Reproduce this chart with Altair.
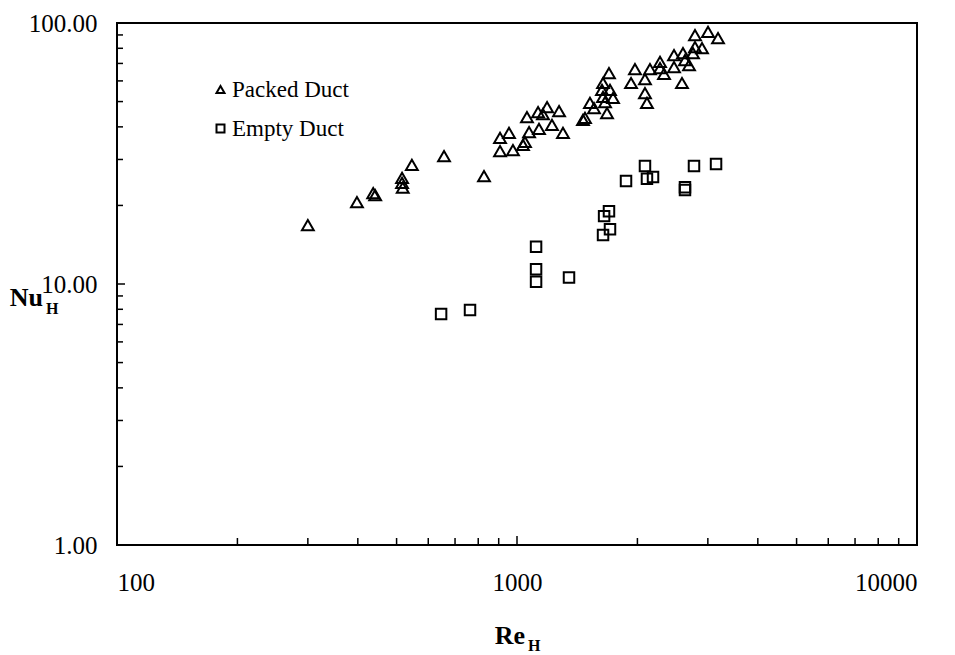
import altair as alt
import pandas as pd

# Packed duct (triangles)
packed_re = [300, 398, 442, 437, 516, 516, 518, 546, 657, 827, 907, 907, 955, 977, 1035, 1047,
             1059, 1072, 1129, 1135, 1189, 1161, 1223, 1274, 1303, 1479, 1462, 1522, 1558, 1641,
             1631, 1641, 1679, 1698, 1708, 1738, 1660, 1928, 1972, 2089, 2089, 2113, 2150, 2278,
             2278, 2331, 2469, 2469, 2600, 2630, 2692, 2585, 2754, 2786, 2786, 2901, 3003, 3181]
packed_nu = [16.8, 20.6, 21.9, 22.3, 25.5, 24.4, 23.4, 28.6, 30.9, 25.9, 32.3, 36.3, 37.9, 32.6, 34.1, 35.0,
             43.6, 38.2, 45.6, 39.3, 47.6, 44.8, 40.7, 46.0, 37.9, 43.3, 42.5, 49.4, 47.2, 58.9,
             55.4, 52.1, 45.2, 64.3, 55.4, 51.6, 49.8, 58.9, 66.6, 61.0, 53.9, 49.4, 66.6, 70.9,
             67.2, 63.8, 75.4, 67.8, 76.7, 72.1, 69.0, 58.9, 76.7, 89.9, 80.9, 80.2, 92.4, 87.6]

# Empty duct (squares)
empty_re = [646, 763, 1116, 1116, 1116, 1349, 1873, 2089, 2113, 2188, 1651, 1698, 1641, 1708,
            2630, 2630, 2770, 3145]
empty_nu = [7.67, 7.95, 13.9, 11.4, 10.2, 10.6, 24.8, 28.3, 25.3, 25.7, 18.2, 19.0, 15.4, 16.2,
            22.9, 23.5, 28.3, 28.8]

series_names = ["Packed Duct", "Empty Duct"]
x_labels = [100, 1000, 10000]
y_labels = [1, 10, 100]
x_minor = [200, 300, 400, 500, 600, 700, 800, 900, 2000, 3000, 4000, 5000, 6000, 7000, 8000, 9000]
x_major = [1000]
y_minor = [2, 3, 4, 5, 6, 7, 8, 9, 20, 30, 40, 50, 60, 70, 80, 90]
y_major = [10]

W, H = 800, 522
FONT = "Liberation Serif"

df = pd.DataFrame({
    "Re": packed_re + empty_re,
    "Nu": packed_nu + empty_nu,
    "series": [series_names[0]] * len(packed_re) + [series_names[1]] * len(empty_re),
})

xscale = alt.Scale(type="log", domain=[100, 10000], nice=False)
yscale = alt.Scale(type="log", domain=[1, 100], nice=False)

points = alt.Chart(df).mark_point(filled=False, color="black", strokeWidth=2, opacity=1).encode(
    x=alt.X("Re:Q", scale=xscale,
            axis=alt.Axis(values=x_labels, format="d", title=None, labelPadding=25,
                          labelFont=FONT, labelFontSize=25, labelColor="black")),
    y=alt.Y("Nu:Q", scale=yscale,
            axis=alt.Axis(values=y_labels, format=".2f", title=None, labelPadding=20,
                          labelFont=FONT, labelFontSize=25, labelColor="black")),
    shape=alt.Shape("series:N",
                    scale=alt.Scale(domain=series_names, range=["triangle-up", "square"]),
                    legend=alt.Legend(title=None, orient="none", legendX=92, legendY=55,
                                      padding=0, labelFont=FONT, labelFontSize=23, labelColor="black",
                                      symbolStrokeColor="black", symbolStrokeWidth=2,
                                      symbolFillColor="white", symbolSize=64,
                                      rowPadding=15, labelOffset=0)),
    size=alt.condition("datum.series == 'Packed Duct'", alt.value(140), alt.value(110)),
)

xmin_df = pd.DataFrame({"v": x_minor})
xmaj_df = pd.DataFrame({"v": x_major})
ymin_df = pd.DataFrame({"v": y_minor})
ymaj_df = pd.DataFrame({"v": y_major})

xt_minor = alt.Chart(xmin_df).mark_rule(color="black", strokeWidth=1.5).encode(
    x=alt.X("v:Q", scale=xscale), y=alt.value(H), y2=alt.value(H - 7))
xt_major = alt.Chart(xmaj_df).mark_rule(color="black", strokeWidth=1.5).encode(
    x=alt.X("v:Q", scale=xscale), y=alt.value(H), y2=alt.value(H - 9))
yt_minor = alt.Chart(ymin_df).mark_rule(color="black", strokeWidth=1.5).encode(
    y=alt.Y("v:Q", scale=yscale), x=alt.value(0), x2=alt.value(6))
yt_major = alt.Chart(ymaj_df).mark_rule(color="black", strokeWidth=1.5).encode(
    y=alt.Y("v:Q", scale=yscale), x=alt.value(0), x2=alt.value(8))

title_df = pd.DataFrame({"t": ["x"]})
def label(txt, x, y, size, align):
    return alt.Chart(title_df).mark_text(text=txt, font=FONT, fontSize=size, fontWeight="bold",
                                         color="black", align=align, baseline="middle").encode(
        x=alt.value(x), y=alt.value(y))

titles = [
    label("Nu", -74, 275, 26, "right"),
    label("H", -71, 286, 16, "left"),
    label("Re", 408, 613, 26, "right"),
    label("H", 411, 623, 16, "left"),
]

chart = alt.layer(points, xt_minor, xt_major, yt_minor, yt_major, *titles).properties(
    width=W, height=H,
    autosize=alt.AutoSizeParams(type="none"),
    padding={"left": 109, "top": 15, "right": 30, "bottom": 110},
).configure_view(stroke="black", strokeWidth=2).configure_axis(
    domain=False, grid=False, ticks=False
)

chart.save("out.html", embed_options={"renderer": "svg", "actions": False})
